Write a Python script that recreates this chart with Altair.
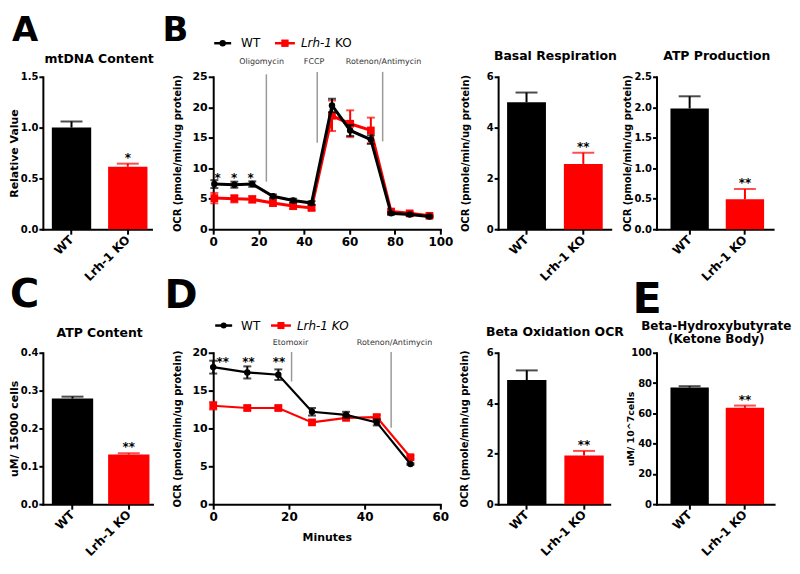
import altair as alt
import pandas as pd

FONT = "DejaVu Sans"
BLACK = "#000000"
RED = "#FF0000"
RULE_GREY = "#9A9A9A"
TEXT_GREY = "#333333"

groups = ["WT", "Lrh-1 KO"]

# ---------------- bar panels ----------------
mt_values = [1.00, 0.615]
mt_errors = [0.06, 0.03]
mt_stars = ["", "*"]

basal_values = [5.0, 2.57]
basal_errors = [0.38, 0.44]
basal_stars = ["", "**"]

atpprod_values = [1.98, 0.49]
atpprod_errors = [0.20, 0.17]
atpprod_stars = ["", "**"]

atp_values = [0.279, 0.131]
atp_errors = [0.005, 0.0035]
atp_stars = ["", "**"]

betaox_values = [4.92, 1.93]
betaox_errors = [0.38, 0.18]
betaox_stars = ["", "**"]

bhb_values = [77.0, 63.6]
bhb_errors = [0.9, 1.5]
bhb_stars = ["", "**"]

# ---------------- B: mito stress test ----------------
b_minutes = [0.5, 9.3, 17.2, 26.3, 35.2, 43.3, 52.3, 60.3, 69.4, 78.3, 86.5, 95.2]
b_wt = [7.4, 7.3, 7.4, 5.4, 4.7, 4.3, 20.3, 16.2, 14.7, 2.6, 2.4, 2.1]
b_wt_err = [0.65, 0.5, 0.45, 0.3, 0.3, 0.3, 1.1, 0.9, 0.7, 0.2, 0.2, 0.15]
b_ko = [5.1, 5.0, 4.9, 4.3, 3.8, 3.5, 18.6, 17.3, 16.2, 2.9, 2.6, 2.2]
b_ko_err = [0.85, 0.6, 0.55, 0.5, 0.5, 0.4, 2.5, 2.2, 2.1, 0.3, 0.2, 0.2]
b_star_x = [1.9, 9.2, 16.5]
b_star_y = [8.9, 8.9, 8.9]
b_star_text = ["*", "*", "*"]
b_drugs = ["Oligomycin", "FCCP", "Rotenon/Antimycin"]
b_drug_label_x = [21.3, 44.4, 75.0]
b_drug_label_y = [27.4, 27.4, 27.4]
b_drug_rule_x = [23.4, 45.8, 74.6]
b_drug_rule_top = [25.4, 25.8, 25.8]
b_drug_rule_bottom = [7.8, 14.2, 14.4]
b_xticks = [0, 20, 40, 60, 80, 100]
b_yticks = [0, 5, 10, 15, 20, 25]

# ---------------- D: beta oxidation ----------------
d_minutes = [0, 9, 17.2, 26.1, 35.1, 43.2, 52.1]
d_wt = [18.1, 17.4, 17.1, 12.2, 11.8, 10.8, 5.3]
d_wt_err = [0.85, 0.8, 0.7, 0.5, 0.4, 0.4, 0.1]
d_ko = [13.0, 12.7, 12.7, 10.8, 11.4, 11.5, 6.2]
d_ko_err = [0.5, 0.3, 0.3, 0.2, 0.3, 0.3, 0.2]
d_star_x = [2.5, 9.3, 17.4]
d_star_y = [19.2, 19.2, 19.2]
d_star_text = ["**", "**", "**"]
d_drugs = ["Etomoxir", "Rotenon/Antimycin"]
d_drug_label_x = [20.4, 47.9]
d_drug_label_y = [21.3, 21.3]
d_drug_rule_x = [20.7, 47.0]
d_drug_rule_top = [20.1, 20.1]
d_drug_rule_bottom = [16.2, 10.1]
d_xticks = [0, 20, 40, 60]
d_yticks = [0, 5, 10, 15, 20]

OCR_TITLE = "OCR (pmole/min/ug protein)"

ONE = pd.DataFrame({"k": [0]})


def text_at(text, dx, dy, size, weight="normal", style="normal", align="left",
            baseline="alphabetic", color=BLACK, line_height=None):
    kw = dict(align=align, baseline=baseline, fontSize=size, fontWeight=weight,
              fontStyle=style, font=FONT, color=color)
    if line_height is not None:
        kw.update(lineBreak="\n", lineHeight=line_height)
    return alt.Chart(pd.DataFrame({"t": [text]})).mark_text(**kw).encode(
        x=alt.value(dx), y=alt.value(dy), text="t:N")


def band_scale(width, left_gap, bar_w, gap):
    """Band scale whose two bars are bar_w wide, gap apart, left_gap from the axis."""
    step = bar_w + gap
    outer = width - 2 * bar_w - gap
    return alt.Scale(domain=groups, paddingInner=gap / step,
                     paddingOuter=(outer / 2) / step, align=left_gap / outer)


def bar_panel(letter, ldx, ldy, lsize, title, tdx, tdy, tsize, values, errors, stars,
              ytitle, ytitle_x, ytitle_size, ymax, yticks, yfmt, width, height, band):
    df = pd.DataFrame({
        "group": groups,
        "value": values,
        "top": [v + e for v, e in zip(values, errors)],
        "star": stars,
    })
    base = alt.Chart(df)
    xscale = band_scale(width, *band)
    xaxis = alt.Axis(title=None, labelAngle=-45, labelAlign="right",
                     labelBaseline="middle", labelFontSize=12, labelPadding=3)
    x = alt.X("group:N", scale=xscale, sort=groups, axis=xaxis)
    yscale = alt.Scale(domain=[0, ymax], nice=False, zero=True)
    yaxis = alt.Axis(values=yticks, format=yfmt, title=ytitle, titleX=ytitle_x,
                     titleY=height / 2, titleAngle=-90, titleBaseline="middle",
                     titleAlign="center", titleFontSize=ytitle_size, labelFontSize=10,
                     tickSize=4, labelPadding=1)
    color = alt.Color("group:N", scale=alt.Scale(domain=groups, range=[BLACK, RED]), legend=None)
    bars = base.mark_bar().encode(x=x, y=alt.Y("value:Q", scale=yscale, axis=yaxis), color=color)
    rule = base.mark_rule(strokeWidth=2).encode(
        x=x, y=alt.Y("value:Q", scale=yscale, axis=yaxis), y2="top:Q", color=color)
    cap = base.mark_tick(thickness=2, size=22).encode(
        x=x, y=alt.Y("top:Q", scale=yscale, axis=yaxis), color=color)
    star = base.mark_text(baseline="alphabetic", dy=-2, fontSize=12, fontWeight="bold",
                          font=FONT, color=BLACK).encode(
        x=x, y=alt.Y("top:Q", scale=yscale, axis=yaxis), text="star:N")
    layers = [bars, rule, cap, star]
    if isinstance(title, list):
        layers.append(text_at("\n".join(title), width / 2 + tdx, tdy, tsize, weight="bold",
                              align="center", line_height=13))
    else:
        layers.append(text_at(title, width / 2 + tdx, tdy, tsize, weight="bold", align="center"))
    if letter:
        layers.append(text_at(letter, ldx, ldy, lsize, weight="bold"))
    return alt.layer(*layers).properties(width=width, height=height)


def legend_entry(x0, x1, y, color, shape, size):
    line = alt.Chart(ONE).mark_rule(color=color, strokeWidth=2.5).encode(
        x=alt.value(x0), x2=alt.value(x1), y=alt.value(y))
    pt = alt.Chart(ONE).mark_point(filled=True, shape=shape, size=size, color=color,
                                   opacity=1).encode(
        x=alt.value((x0 + x1) / 2), y=alt.value(y))
    return [line, pt]


def line_panel(letter, ldx, ldy, lsize, xs, wt, wt_err, ko, ko_err, xmax, ymax, xticks, yticks,
               star_x, star_y, star_text, drugs, drug_lx, drug_ly, drug_rx, drug_rtop, drug_rbot,
               legend_layers, line_w, width, height, xtitle):
    rows = []
    for g, ys, es in [("WT", wt, wt_err), ("Lrh-1 KO", ko, ko_err)]:
        for xv, yv, ev in zip(xs, ys, es):
            rows.append({"group": g, "minute": xv, "ocr": yv, "lo": yv - ev, "hi": yv + ev})
    df = pd.DataFrame(rows)
    xscale = alt.Scale(domain=[0, xmax], nice=False, zero=True, padding=0)
    yscale = alt.Scale(domain=[0, ymax], nice=False, zero=True, padding=0)
    xaxis_kwargs = dict(values=xticks, labelFontSize=12, labelPadding=2, labelFlush=False)
    if xtitle:
        xaxis_kwargs.update(title=xtitle, titleFontSize=11, titleX=width / 2, titleY=33,
                            titleBaseline="middle", titleAlign="center")
    else:
        xaxis_kwargs.update(title=None)
    xaxis = alt.Axis(**xaxis_kwargs)
    yaxis = alt.Axis(values=yticks, title=OCR_TITLE, titleX=-36, titleY=height / 2,
                     titleAngle=-90, titleBaseline="middle", titleAlign="center",
                     titleFontSize=10, labelFontSize=11, labelPadding=1, labelFlush=False)

    def X(field):
        return alt.X(field, type="quantitative", scale=xscale, axis=xaxis)

    def Y(field):
        return alt.Y(field, type="quantitative", scale=yscale, axis=yaxis)

    layers = []
    for g, col, shape, size in [("Lrh-1 KO", RED, "square", 60), ("WT", BLACK, "circle", 42)]:
        sub = alt.Chart(df).transform_filter(alt.datum.group == g)
        layers.append(sub.mark_line(color=col, strokeWidth=line_w).encode(x=X("minute"), y=Y("ocr")))
        layers.append(sub.mark_rule(color=col, strokeWidth=2).encode(
            x=X("minute"), y=Y("lo"), y2="hi:Q"))
        layers.append(sub.mark_tick(color=col, orient="horizontal", size=8, thickness=2).encode(
            x=X("minute"), y=Y("lo")))
        layers.append(sub.mark_tick(color=col, orient="horizontal", size=8, thickness=2).encode(
            x=X("minute"), y=Y("hi")))
        layers.append(sub.mark_point(filled=True, shape=shape, size=size, color=col,
                                     opacity=1).encode(x=X("minute"), y=Y("ocr")))

    rules_df = pd.DataFrame({"rx": drug_rx, "rtop": drug_rtop, "rbot": drug_rbot})
    layers.append(alt.Chart(rules_df).mark_rule(color=RULE_GREY, strokeWidth=1.5).encode(
        x=X("rx"), y=Y("rbot"), y2="rtop:Q"))
    labels_df = pd.DataFrame({"drug": drugs, "lx": drug_lx, "ly": drug_ly})
    layers.append(alt.Chart(labels_df).mark_text(fontSize=8, font=FONT, color=TEXT_GREY,
                                                  baseline="middle").encode(
        x=X("lx"), y=Y("ly"), text="drug:N"))
    stars_df = pd.DataFrame({"sx": star_x, "sy": star_y, "st": star_text})
    layers.append(alt.Chart(stars_df).mark_text(fontSize=12, fontWeight="bold", font=FONT,
                                                 color=BLACK, baseline="alphabetic", dy=7).encode(
        x=X("sx"), y=Y("sy"), text="st:N"))
    layers.extend(legend_layers)
    layers.append(text_at(letter, ldx, ldy, lsize, weight="bold"))
    return alt.layer(*layers).properties(width=width, height=height)


def spacer(w):
    return alt.Chart(ONE).mark_point(opacity=0).properties(width=w, height=10)


H1 = 153
H2 = 152

# legends (B: "Lrh-1" italic + "KO" upright; D: whole label italic)
b_legend = (legend_entry(1, 18, -33.7, BLACK, "circle", 42)
            + [text_at("WT", 28, -33.7, 12, baseline="middle")]
            + legend_entry(62, 82, -33.7, RED, "square", 55)
            + [text_at("Lrh-1", 88, -33.7, 12, style="italic", baseline="middle"),
               text_at("KO", 139, -33.7, 12, align="right", baseline="middle")])
d_legend = (legend_entry(2, 19, -27.3, BLACK, "circle", 36)
            + [text_at("WT", 28, -27.3, 12, baseline="middle")]
            + legend_entry(58, 78, -27.3, RED, "square", 50)
            + [text_at("Lrh-1 KO", 84, -27.3, 12, style="italic", baseline="middle")])

panel_a = bar_panel("A", -31, -36, 34, "mtDNA Content", 2, -14, 12.5, mt_values, mt_errors,
                    mt_stars, "Relative Value", -28, 11, 1.5, [0, 0.5, 1.0, 1.5], ".1f",
                    109, H1, (9, 39.5, 17))
panel_b = line_panel("B", -51, -36, 34, b_minutes, b_wt, b_wt_err, b_ko, b_ko_err, 100, 25,
                     b_xticks, b_yticks, b_star_x, b_star_y, b_star_text, b_drugs,
                     b_drug_label_x, b_drug_label_y, b_drug_rule_x, b_drug_rule_top,
                     b_drug_rule_bottom, b_legend, 3, 228, H1, None)
panel_basal = bar_panel("", 0, 0, 10, "Basal Respiration", 1, -17, 12.5, basal_values,
                        basal_errors, basal_stars, OCR_TITLE, -33, 10, 6, [0, 2, 4, 6], "d",
                        113, H1, (9, 39, 18))
panel_atpprod = bar_panel("", 0, 0, 10, "ATP Production", 2, -17, 12.5, atpprod_values,
                          atpprod_errors, atpprod_stars, OCR_TITLE, -29, 10, 2.5,
                          [0, 0.5, 1.0, 1.5, 2.0, 2.5], ".1f", 117, H1, (14, 38.5, 17))

panel_c = bar_panel("C", -33, -46, 40, "ATP Content", 2, -16, 12.5, atp_values, atp_errors,
                    atp_stars, "uM/ 15000 cells", -28, 11, 0.4, [0, 0.1, 0.2, 0.3, 0.4], ".1f",
                    110, H2, (9, 41.5, 15))
panel_d = line_panel("D", -49, -45, 40, d_minutes, d_wt, d_wt_err, d_ko, d_ko_err, 60, 20,
                     d_xticks, d_yticks, d_star_x, d_star_y, d_star_text, d_drugs,
                     d_drug_label_x, d_drug_label_y, d_drug_rule_x, d_drug_rule_top,
                     d_drug_rule_bottom, d_legend, 2.2, 228, H2, "Minutes")
panel_betaox = bar_panel("", 0, 0, 10, "Beta Oxidation OCR", 1, -17, 12.5, betaox_values,
                         betaox_errors, betaox_stars, OCR_TITLE, -34, 10, 6, [0, 2, 4, 6], "d",
                         112, H2, (9, 39.5, 18))
panel_e = bar_panel("E", -24, -40, 43, ["Beta-Hydroxybutyrate", "(Ketone Body)"], 1, -23, 12,
                    bhb_values, bhb_errors, bhb_stars, "uM/ 10^7cells", -26, 9.5, 100,
                    [0, 20, 40, 60, 80, 100], "d", 118, H2, (14, 38.5, 17))

chart = alt.concat(
    panel_a, spacer(61), panel_b, spacer(58), panel_basal, spacer(46), panel_atpprod,
    panel_c, spacer(61), panel_d, spacer(58), panel_betaox, spacer(46), panel_e,
    columns=7, spacing={"row": 124, "column": 0}, bounds="flush", align="each",
).properties(
    padding={"left": 1, "top": 5, "right": 0, "bottom": 0},
    background="white",
).configure_view(
    strokeWidth=0
).configure_axis(
    domainColor=BLACK, domainWidth=2, domainCap="square", tickColor=BLACK, tickWidth=2,
    tickSize=5, labelColor=BLACK, labelFont=FONT, labelFontWeight="bold", titleColor=BLACK,
    titleFont=FONT, titleFontWeight="bold", grid=False, labelPadding=2,
)

chart.save("out.html", embed_options={"renderer": "svg", "actions": False})
